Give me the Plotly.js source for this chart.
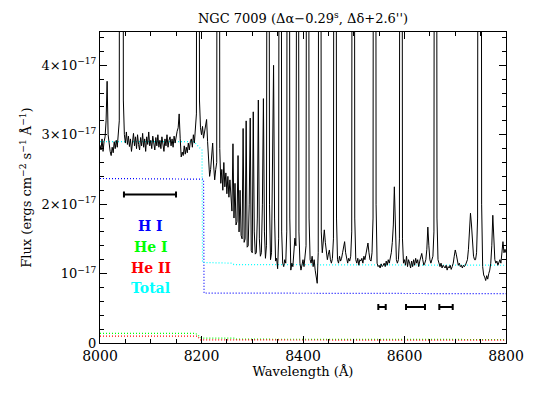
<!DOCTYPE html>
<html>
<head>
<meta charset="utf-8">
<script src="https://cdn.plot.ly/plotly-3.0.1.min.js"></script>
<style>
  html, body { margin: 0; padding: 0; background: #fff; }
  #ngcfig { width: 556px; height: 415px; }
</style>
</head>
<body>
<div id="ngcfig"></div>
<script>
// observed spectrum, flux in units of 1e-17, sampled every 2 A from 8000 A
var waveStart = 8000, waveStep = 2;
var flux = [
  2.85, 2.78, 2.94, 2.76, 2.90, 2.97, 3.20, 3.77, 3.00, 2.82,   // 8000
  2.76, 2.70, 2.82, 2.74, 2.90, 2.80, 2.92, 2.82, 2.97, 3.20,   // 8020
  25, 30, 25, 3.50, 3.00, 2.88, 3.04, 2.86, 2.98, 2.83,         // 8040
  2.94, 2.76, 2.90, 3.02, 2.84, 2.97, 2.80, 3.00, 2.86, 2.78,   // 8060
  2.96, 2.84, 3.02, 2.82, 2.94, 2.76, 2.97, 2.86, 3.04, 2.84,   // 8080
  2.92, 2.80, 2.98, 2.86, 2.78, 2.96, 2.84, 3.00, 2.82, 2.92,   // 8100
  2.80, 2.97, 2.86, 2.76, 2.94, 2.84, 3.00, 2.82, 2.92, 2.97,   // 8120
  2.84, 2.94, 2.82, 2.98, 2.88, 3.00, 3.05, 3.10, 3.30, 2.95,   // 8140
  2.68, 2.75, 2.70, 2.84, 2.72, 2.82, 2.74, 2.88, 2.78, 2.90,   // 8160
  2.94, 2.82, 3.00, 2.88, 3.05, 3.30, 20, 22, 3.50, 3.10,       // 8180
  3.00, 3.12, 2.95, 3.05, 3.15, 3.22, 2.90, 2.60, 2.40, 2.50,   // 8200
  2.70, 2.88, 2.55, 2.35, 2.50, 2.60, 18, 20, 2.80, 2.30,       // 8220
  2.50, 2.20, 2.60, 2.25, 2.45, 2.15, 2.40, 2.10, 2.35, 2.00,   // 8240
  1.90, 2.87, 1.80, 2.30, 1.70, 1.75, 2.70, 1.60, 2.20, 1.55,   // 8260
  1.50, 3.09, 1.45, 1.50, 3.20, 1.38, 1.40, 2.00, 3.24, 1.33,   // 8280
  1.30, 3.33, 1.60, 1.28, 1.30, 1.80, 3.50, 1.50, 1.25, 1.30,   // 8300
  2.00, 3.52, 1.60, 1.22, 1.40, 12, 15, 2.00, 1.20, 1.30,       // 8320
  2.50, 4.00, 1.80, 1.18, 1.22, 1.07, 1.50, 14, 16, 1.60,       // 8340
  1.15, 1.10, 1.20, 1.15, 1.60, 18, 20, 1.80, 1.05, 1.15,       // 8360
  1.10, 1.35, 1.51, 1.40, 10, 14, 1.60, 1.15, 1.05, 1.12,       // 8380
  1.20, 1.10, 1.25, 1.40, 14, 16, 1.80, 1.20, 1.15, 1.25,       // 8400
  1.10, 1.20, 1.05, 0.95, 0.86, 1.30, 15, 18, 1.60, 1.30,       // 8420
  1.50, 1.63, 1.45, 1.30, 1.20, 1.28, 1.34, 1.20, 1.15, 1.22,   // 8440
  1.50, 16, 20, 1.80, 1.20, 1.15, 1.25, 1.18, 1.22, 1.30,       // 8460
  1.38, 1.46, 1.30, 1.20, 1.15, 1.22, 1.18, 1.25, 1.60, 18,     // 8480
  20, 1.80, 1.20, 1.15, 1.22, 1.12, 1.20, 1.18, 1.22, 1.15,     // 8500
  1.25, 1.20, 1.30, 1.38, 1.44, 1.30, 1.20, 1.18, 1.30, 1.80,   // 8520
  20, 22, 2.00, 1.15, 1.10, 1.12, 1.08, 1.14, 1.10, 1.12,       // 8540
  1.15, 1.10, 1.18, 1.12, 1.20, 1.15, 1.22, 1.30, 1.45, 1.70,   // 8560
  2.25, 1.50, 1.20, 1.15, 1.20, 1.50, 18, 20, 1.50, 1.15,       // 8580
  1.20, 1.12, 1.25, 1.10, 1.20, 1.15, 1.08, 1.18, 1.10, 1.20,   // 8600
  1.12, 1.22, 1.15, 1.20, 1.10, 1.18, 1.25, 1.29, 1.20, 1.12,   // 8620
  1.15, 1.20, 1.35, 1.67, 1.40, 1.20, 1.15, 1.20, 1.25, 1.60,   // 8640
  18, 20, 1.80, 1.20, 1.15, 1.10, 1.15, 1.08, 1.12, 1.10,       // 8660
  1.08, 1.12, 1.05, 1.10, 1.08, 1.12, 1.06, 1.10, 1.15, 1.25,   // 8680
  1.34, 1.28, 1.18, 1.12, 1.15, 1.10, 1.12, 1.08, 1.12, 1.10,   // 8700
  1.12, 1.15, 1.20, 1.35, 1.60, 1.87, 1.70, 1.45, 1.25, 1.20,   // 8720
  1.20, 1.30, 1.80, 18, 22, 20, 2.00, 1.10, 0.98, 0.95,         // 8740
  0.90, 0.97, 0.92, 1.00, 1.05, 1.15, 1.40, 1.84, 1.50, 1.20,   // 8760
  1.15, 1.18, 1.12, 1.15, 1.20, 1.15, 1.30, 1.46, 1.30, 1.35,   // 8780
  1.30                                                          // 8800
];
var wave = flux.map(function (v, i) { return waveStart + i * waveStep; });

// model continua
var hiWave = [8000, 8204, 8205, 8800];
var hiFlux = [2.37, 2.36, 0.72, 0.71];
var hei1Wave = [8000, 8188, 8200, 8265, 8268, 8800];
var hei1Flux = [0.14, 0.14, 0.07, 0.07, 0.055, 0.05];
var heii2Wave = [8000, 8192, 8198, 8800];
var heii2Flux = [0.10, 0.10, 0.045, 0.04];
var totWave = [8000, 8185, 8198, 8201, 8202, 8260, 8264, 8800];
var totFlux = [2.90, 2.90, 2.80, 2.78, 1.16, 1.15, 1.13, 1.12];

// continuum windows (horizontal bars)
var barCenter = [8098.5, 8555.7, 8621.7, 8681.8];
var barHalf = [51.3, 7.3, 18.7, 13.2];
var barFlux = [2.14, 0.52, 0.52, 0.52];

var labelNames = ['H I', 'He I', 'He II', 'Total'];
var labelColors = ['#0000ff', '#00ff00', '#ff0000', '#00ffff'];
var labelFlux = [1.68, 1.38, 1.08, 0.79];

var yTickVals = [0, 1, 2, 3, 4];
var yTickText = ['0', '10<sup>−17</sup>', '2×10<sup>−17</sup>', '3×10<sup>−17</sup>', '4×10<sup>−17</sup>'];

function dotted(x, y, c) {
  return { x: x, y: y, mode: 'lines', line: { color: c, width: 1.2, dash: '1px,2px' }, hoverinfo: 'skip' };
}

var data = [
  dotted(hei1Wave, hei1Flux, '#00ff00'),
  dotted(heii2Wave, heii2Flux, '#ff0000'),
  dotted(hiWave, hiFlux, '#0000ff'),
  dotted(totWave, totFlux, '#00ffff'),
  { x: wave, y: flux, mode: 'lines', line: { color: 'black', width: 1 } },
  { x: barCenter, y: barFlux, mode: 'markers', marker: { size: 1, color: 'black' },
    error_x: { type: 'data', array: barHalf, color: 'black', thickness: 2, width: 3 } }
];

var fnt = 'DejaVu Serif';
var annotations = labelNames.map(function (t, i) {
  return { x: 8100, y: labelFlux[i], xref: 'x', yref: 'y', text: '<b>' + t + '</b>', showarrow: false,
           font: { family: fnt, size: 14, color: labelColors[i] } };
});

var layout = {
  width: 556, height: 415,
  margin: { l: 100, r: 50, t: 32, b: 72 },
  paper_bgcolor: 'white', plot_bgcolor: 'white',
  showlegend: false,
  title: { text: 'NGC 7009 (Δα−0.29<sup>s</sup>, Δδ+2.6\'\')', font: { family: fnt, size: 13, color: 'black' },
           xref: 'paper', x: 0.5, yref: 'container', y: 0.955, yanchor: 'middle' },
  xaxis: {
    range: [8000, 8800], tick0: 8000, dtick: 200,
    ticks: 'inside', ticklen: 7, tickcolor: 'black', tickwidth: 1,
    minor: { dtick: 50, ticks: 'inside', ticklen: 4, tickcolor: 'black' },
    showline: true, linecolor: 'black', linewidth: 1, mirror: 'ticks',
    showgrid: false, zeroline: false,
    tickfont: { family: fnt, size: 14, color: 'black' },
    title: { text: 'Wavelength (Å)', font: { family: fnt, size: 13, color: 'black' }, standoff: 4 }
  },
  yaxis: {
    range: [0, 4.48], tickmode: 'array', tickvals: yTickVals, ticktext: yTickText,
    ticks: 'inside', ticklen: 7, tickcolor: 'black', tickwidth: 1,
    minor: { tick0: 0, dtick: 0.2, ticks: 'inside', ticklen: 4, tickcolor: 'black' },
    showline: true, linecolor: 'black', linewidth: 1, mirror: 'ticks',
    showgrid: false, zeroline: false,
    tickfont: { family: fnt, size: 13, color: 'black' },
    title: { text: 'Flux (ergs cm<sup>−2</sup> s<sup>−1</sup> Å<sup>−1</sup>)', font: { family: fnt, size: 13, color: 'black' }, standoff: 6 }
  },
  annotations: annotations
};

Plotly.newPlot('ngcfig', data, layout, { displayModeBar: false, staticPlot: true });
</script>
</body>
</html>
